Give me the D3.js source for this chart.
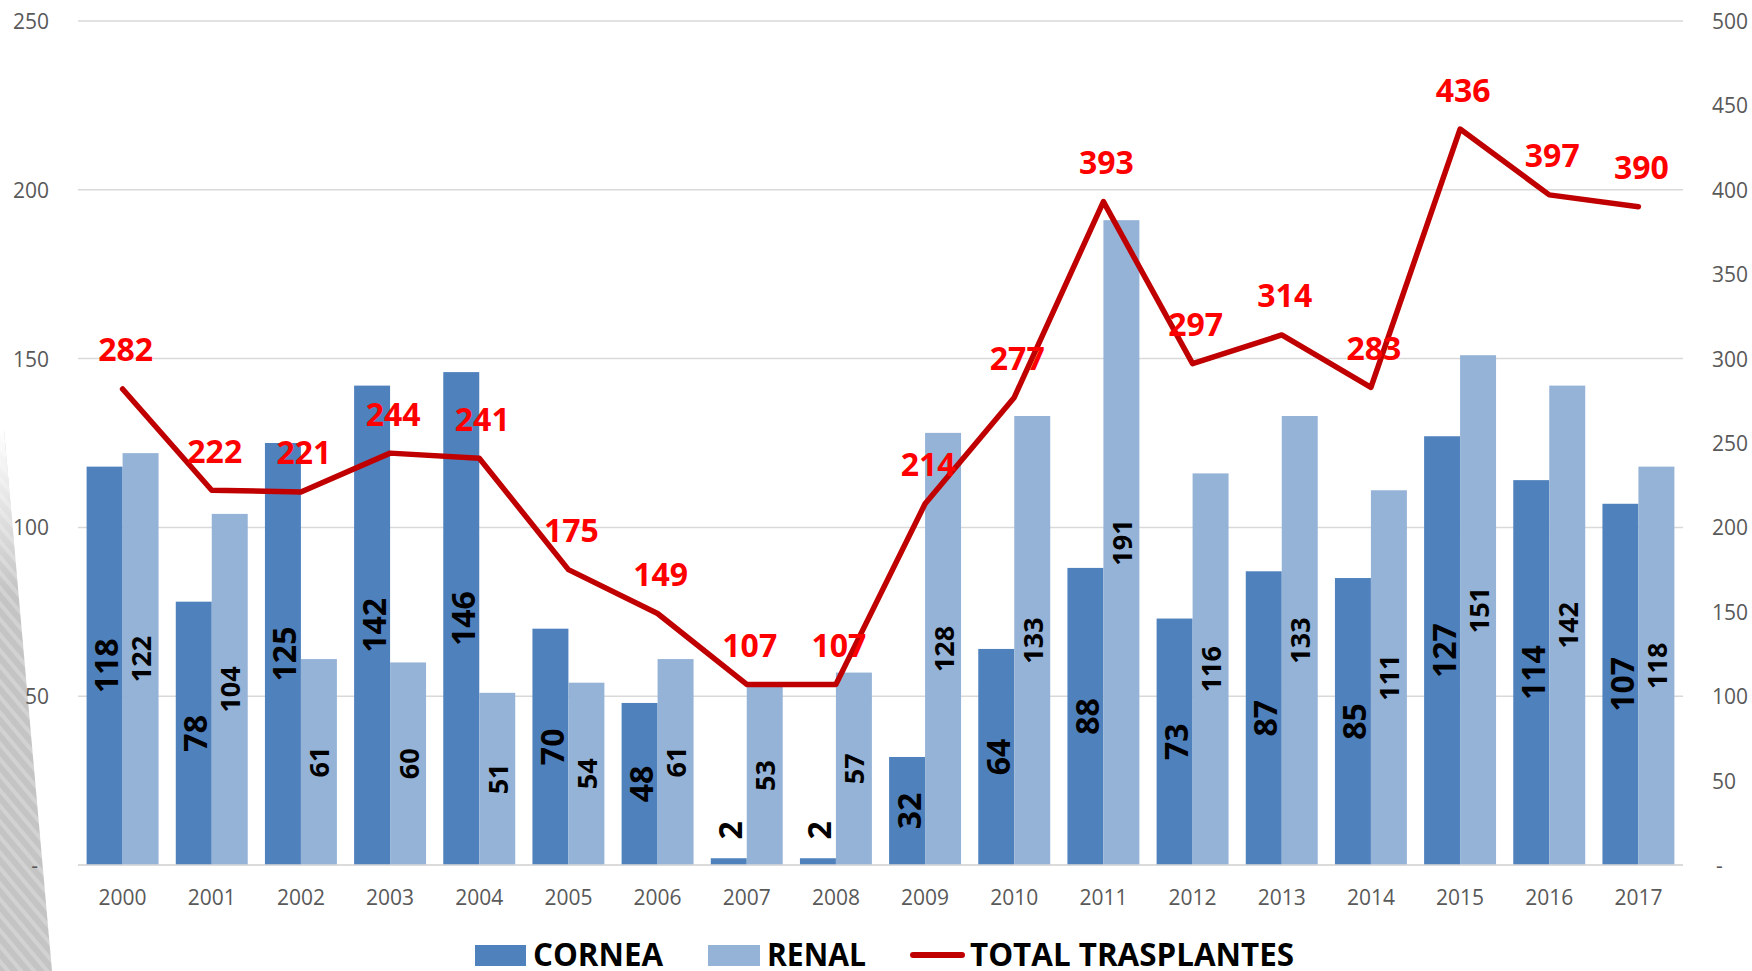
<!DOCTYPE html>
<html>
<head>
<meta charset="utf-8">
<script src="https://cdn.jsdelivr.net/npm/d3@7"></script>
<style>
  html, body { margin: 0; padding: 0; background: #ffffff; overflow: hidden; }
  svg { display: block; }
</style>
</head>
<body>
<svg id="chart" width="1752" height="971"></svg>
<script>
const years = ["2000","2001","2002","2003","2004","2005","2006","2007","2008","2009","2010","2011","2012","2013","2014","2015","2016","2017"];
const cornea = [118, 78, 125, 142, 146, 70, 48, 2, 2, 32, 64, 88, 73, 87, 85, 127, 114, 107];
const renal = [122, 104, 61, 60, 51, 54, 61, 53, 57, 128, 133, 191, 116, 133, 111, 151, 142, 118];
const total = [282, 222, 221, 244, 241, 175, 149, 107, 107, 214, 277, 393, 297, 314, 283, 436, 397, 390];
const leftTicks = [0, 50, 100, 150, 200, 250];
const rightTicks = [0, 50, 100, 150, 200, 250, 300, 350, 400, 450, 500];
const seriesNames = ["CORNEA", "RENAL", "TOTAL TRASPLANTES"];

(function () {
const svg = d3.select("#chart");
const pLeft = 78, pRight = 1683, pTop = 21, pBottom = 865;
const FONT = "'Open Sans', 'Liberation Sans', sans-serif";
const C_CORNEA = "#4F81BD", C_RENAL = "#95B3D7", C_LINE = "#C00000", C_LBL = "#FF0000";

// decorative stripe on left
const defs = svg.append("defs");
const pat = defs.append("pattern").attr("id", "hatch").attr("patternUnits", "userSpaceOnUse")
  .attr("width", 10).attr("height", 10).attr("patternTransform", "rotate(-40)");
pat.append("rect").attr("width", 10).attr("height", 10).attr("fill", "#c4c4c4");
pat.append("rect").attr("width", 4).attr("height", 10).attr("fill", "#d2d2d2");
const grad = defs.append("linearGradient").attr("id", "fade").attr("x1", 0).attr("y1", 0).attr("x2", 0).attr("y2", 1);
grad.append("stop").attr("offset", "0").attr("stop-color", "#fff").attr("stop-opacity", 1);
grad.append("stop").attr("offset", "0.3").attr("stop-color", "#fff").attr("stop-opacity", 0);
grad.append("stop").attr("offset", "1").attr("stop-color", "#fff").attr("stop-opacity", 0);
svg.append("polygon").attr("points", "0,430 4,430 52,971 0,971").attr("fill", "url(#hatch)");
svg.append("polygon").attr("points", "0,430 4,430 52,971 0,971").attr("fill", "url(#fade)");

const x = d3.scaleBand().domain(years).range([pLeft, pRight]).paddingInner(0.193).paddingOuter(0.0965);
const x1 = d3.scaleBand().domain(["cornea", "renal"]).range([0, x.bandwidth()]);
const yL = d3.scaleLinear().domain([0, 250]).range([pBottom, pTop]);
const yR = d3.scaleLinear().domain([0, 500]).range([pBottom, pTop]);

// gridlines
svg.append("g").selectAll("line").data(leftTicks).join("line")
  .attr("x1", pLeft).attr("x2", pRight)
  .attr("y1", d => yL(d)).attr("y2", d => yL(d))
  .attr("stroke", "#D9D9D9").attr("stroke-width", 1.5);

// left axis labels
svg.append("g").selectAll("text").data(leftTicks).join("text")
  .attr("x", d => d === 0 ? 38 : 49).attr("y", d => yL(d))
  .attr("text-anchor", "end").attr("dominant-baseline", "central")
  .attr("font-family", FONT).attr("font-size", 21).attr("fill", "#595959")
  .text(d => d === 0 ? "-" : String(d));
// right axis labels
svg.append("g").selectAll("text").data(rightTicks).join("text")
  .attr("x", d => d === 0 ? 1716 : 1712).attr("y", d => yR(d))
  .attr("text-anchor", "start").attr("dominant-baseline", "central")
  .attr("font-family", FONT).attr("font-size", 21).attr("fill", "#595959")
  .text(d => d === 0 ? "-" : String(d));

// x labels
svg.append("g").selectAll("text").data(years).join("text")
  .attr("x", d => x(d) + x.bandwidth() / 2).attr("y", 897)
  .attr("text-anchor", "middle").attr("dominant-baseline", "central")
  .attr("font-family", FONT).attr("font-size", 21).attr("fill", "#595959")
  .text(d => d);

// bars
const rows = years.map((yr, i) => ({ yr, cornea: cornea[i], renal: renal[i], total: total[i] }));
const barData = [];
rows.forEach(r => {
  barData.push({ yr: r.yr, key: "cornea", v: r.cornea, color: C_CORNEA });
  barData.push({ yr: r.yr, key: "renal", v: r.renal, color: C_RENAL });
});
svg.append("g").selectAll("rect").data(barData).join("rect")
  .attr("x", d => x(d.yr) + x1(d.key))
  .attr("width", x1.bandwidth())
  .attr("y", d => yL(d.v))
  .attr("height", d => yL(0) - yL(d.v))
  .attr("fill", d => d.color);

// bar labels (rotated)
svg.append("g").selectAll("text").data(barData).join("text")
  .attr("transform", d => {
    const cx = x(d.yr) + x1(d.key) + x1.bandwidth() / 2 + (d.key === "cornea" ? 1 : 0);
    const h = yL(0) - yL(d.v);
    const cy = h < 30 ? yL(d.v) - 28 : (yL(d.v) + yL(0)) / 2;
    return `translate(${cx},${cy}) rotate(-90)`;
  })
  .attr("text-anchor", "middle").attr("dominant-baseline", "central")
  .attr("font-family", FONT)
  .attr("font-weight", "bold")
  .attr("font-size", d => d.key === "cornea" ? 32 : 27)
  .attr("fill", "#000")
  .text(d => d.v);

// axis base line
svg.append("line").attr("x1", pLeft).attr("x2", pRight).attr("y1", yL(0)).attr("y2", yL(0))
  .attr("stroke", "#D9D9D9").attr("stroke-width", 1.5);

// total line
const line = d3.line().x(d => x(d.yr) + x.bandwidth() / 2).y(d => yR(d.total));
svg.append("path").datum(rows).attr("d", line)
  .attr("fill", "none").attr("stroke", C_LINE).attr("stroke-width", 5.5)
  .attr("stroke-linejoin", "round").attr("stroke-linecap", "round");

// line labels
svg.append("g").selectAll("text").data(rows).join("text")
  .attr("x", d => x(d.yr) + x.bandwidth() / 2 + 3).attr("y", d => yR(d.total) - 40)
  .attr("text-anchor", "middle").attr("dominant-baseline", "central")
  .attr("font-family", FONT).attr("font-weight", "bold").attr("font-size", 32).attr("fill", C_LBL)
  .text(d => d.total);

// legend
const lg = svg.append("g");
lg.append("rect").attr("x", 475).attr("y", 945).attr("width", 51).attr("height", 21).attr("fill", C_CORNEA);
lg.append("rect").attr("x", 708).attr("y", 945).attr("width", 52).attr("height", 21).attr("fill", C_RENAL);
lg.append("line").attr("x1", 913).attr("x2", 962).attr("y1", 955).attr("y2", 955)
  .attr("stroke", C_LINE).attr("stroke-width", 6).attr("stroke-linecap", "round");
const legText = [
  { t: seriesNames[0], x: 533, w: 130 },
  { t: seriesNames[1], x: 767, w: 99 },
  { t: seriesNames[2], x: 970, w: 324 }
];
lg.selectAll("text").data(legText).join("text")
  .attr("x", d => d.x).attr("y", 966)
  .attr("textLength", d => d.w).attr("lengthAdjust", "spacingAndGlyphs")
  .attr("font-family", FONT).attr("font-weight", "bold").attr("font-size", 33).attr("fill", "#000")
  .text(d => d.t);
})();
</script>
</body>
</html>
